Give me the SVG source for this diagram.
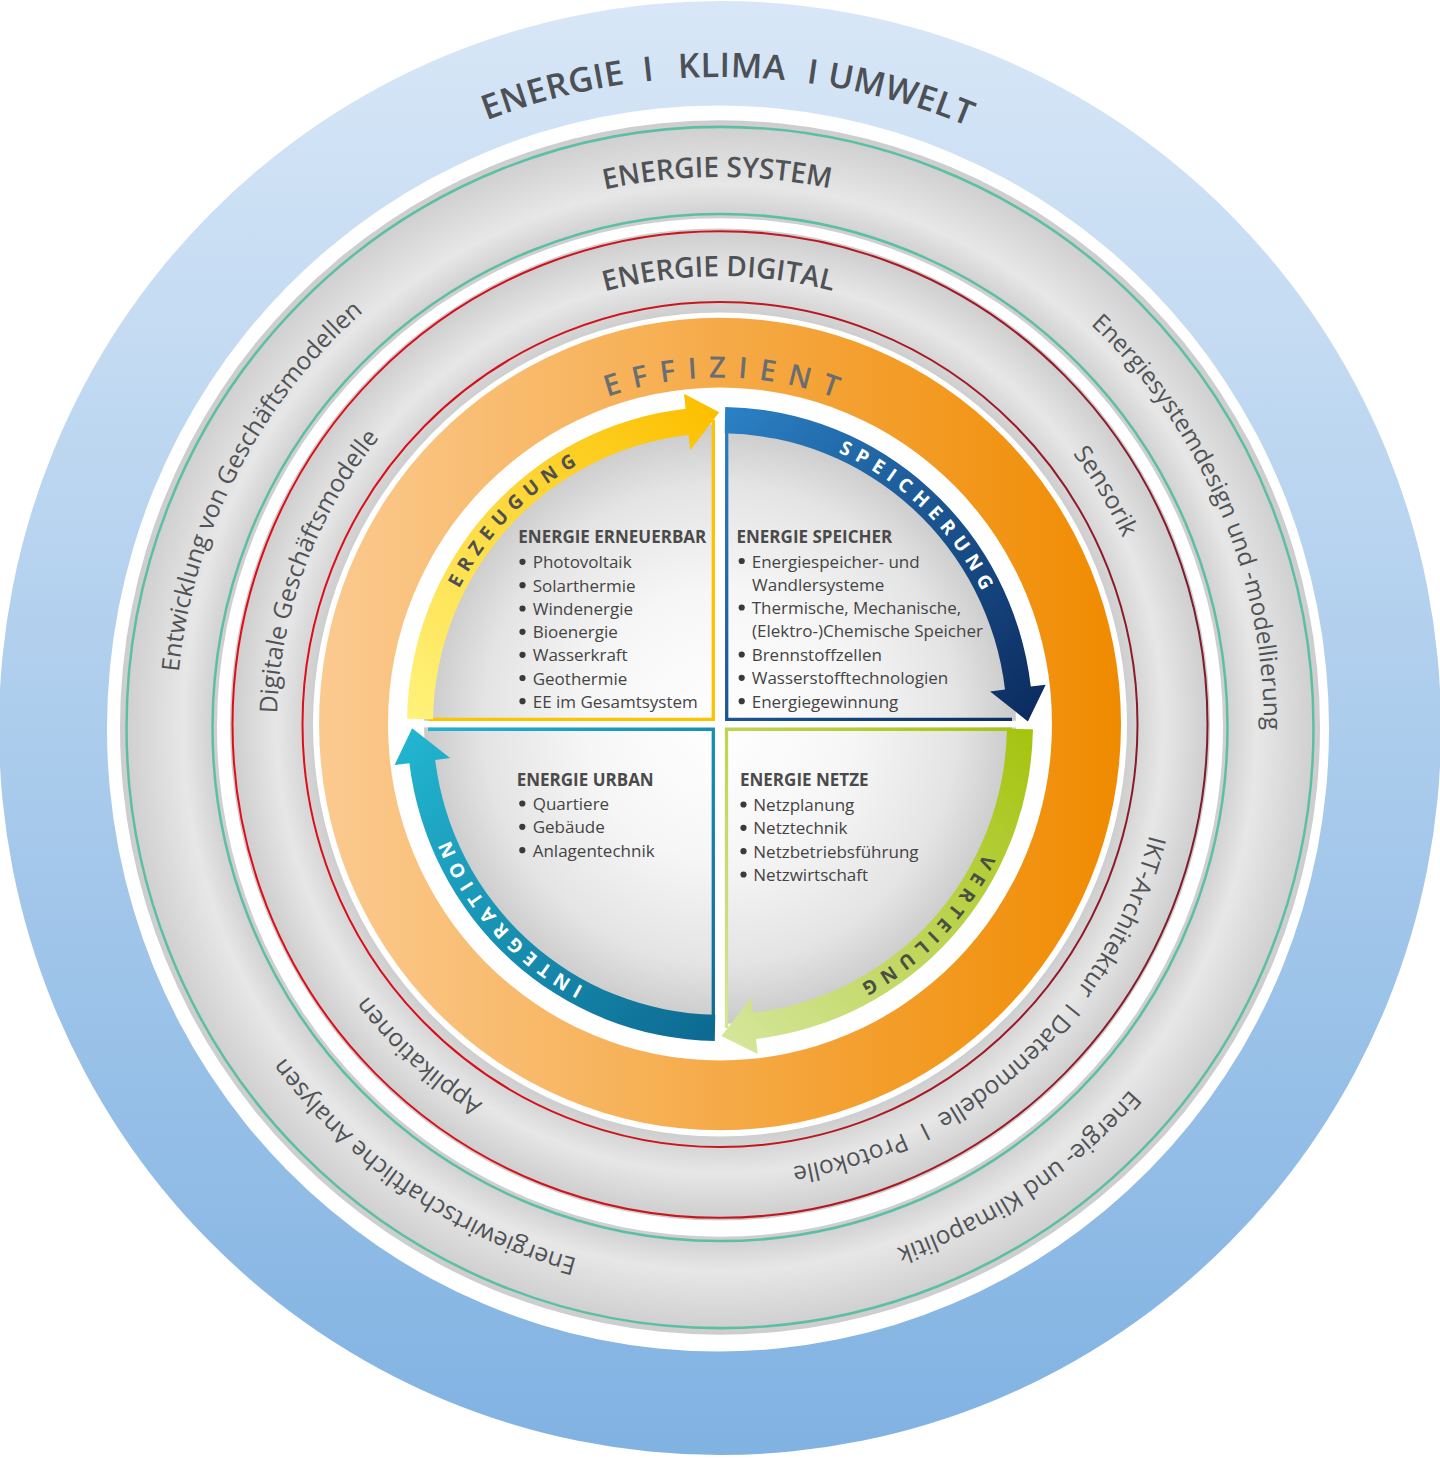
<svg xmlns="http://www.w3.org/2000/svg" width="1440" height="1458" viewBox="0 0 1440 1458">
<style>
text{font-family:"Open Sans","Noto Sans","Liberation Sans",sans-serif}
.bt{font-size:34px;font-weight:600;fill:#4d5054;letter-spacing:0.5px}
.hd{font-size:28px;font-weight:600;fill:#4f5256}
.rt{font-size:24.5px;font-weight:400;fill:#505356}
.ef{font-size:29px;font-weight:600;fill:#6a6d71;letter-spacing:12px}
.ar{font-size:19px;font-weight:700;letter-spacing:7px}
.qh{font-size:17px;font-weight:700;fill:#4a4a4a}
.qi{font-size:17px;font-weight:400;fill:#444444}
.dot{fill:#3a3a3a}
.teal{fill:none;stroke:#5cbfa4;stroke-width:2.5}
.red{fill:none;stroke:url(#gRed);stroke-width:2}
.bd{fill:none;stroke-width:3.3}
</style>
<defs>
<linearGradient id="gBlue" x1="0" y1="0" x2="0" y2="1458" gradientUnits="userSpaceOnUse">
<stop offset="0" stop-color="#d8e7f7"/><stop offset="1" stop-color="#80b2e2"/>
</linearGradient>
<radialGradient id="gGray1" cx="0" cy="0" r="600" gradientUnits="userSpaceOnUse">
<stop offset="0.838" stop-color="#cecece"/><stop offset="0.895" stop-color="#e7e7e7"/><stop offset="1" stop-color="#cdcdcd"/>
</radialGradient>
<radialGradient id="gGray2" cx="0" cy="0" r="490" gradientUnits="userSpaceOnUse">
<stop offset="0.83" stop-color="#cecece"/><stop offset="0.905" stop-color="#e7e7e7"/><stop offset="1" stop-color="#cdcdcd"/>
</radialGradient>
<linearGradient id="gRed" x1="-490" y1="0" x2="490" y2="0" gradientUnits="userSpaceOnUse">
<stop offset="0" stop-color="#e30b18"/><stop offset="0.5" stop-color="#c8161f"/><stop offset="1" stop-color="#7d1c2c"/>
</linearGradient>
<linearGradient id="gOrange" x1="-401" y1="0" x2="401" y2="0" gradientUnits="userSpaceOnUse">
<stop offset="0" stop-color="#fbca90"/><stop offset="1" stop-color="#f08b00"/>
</linearGradient>
<radialGradient id="gCore" cx="0" cy="0" r="296" gradientUnits="userSpaceOnUse">
<stop offset="0" stop-color="#ffffff"/><stop offset="0.45" stop-color="#f6f6f6"/><stop offset="0.8" stop-color="#e4e4e4"/><stop offset="1" stop-color="#cacaca"/>
</radialGradient>
<linearGradient id="gYel" x1="-300" y1="0" x2="0" y2="-300" gradientUnits="userSpaceOnUse">
<stop offset="0" stop-color="#fff27a"/><stop offset="1" stop-color="#fcc000"/>
</linearGradient>
<linearGradient id="gBlu" x1="0" y1="-300" x2="300" y2="0" gradientUnits="userSpaceOnUse">
<stop offset="0" stop-color="#2a80c4"/><stop offset="1" stop-color="#0c2c60"/>
</linearGradient>
<linearGradient id="gGrn" x1="300" y1="0" x2="0" y2="300" gradientUnits="userSpaceOnUse">
<stop offset="0" stop-color="#a5c40f"/><stop offset="1" stop-color="#d5e59a"/>
</linearGradient>
<linearGradient id="gTea" x1="0" y1="300" x2="-300" y2="0" gradientUnits="userSpaceOnUse">
<stop offset="0" stop-color="#0d6a92"/><stop offset="1" stop-color="#22b5d0"/>
</linearGradient>
<path id="pB" d="M0,651A651,651 0 1 1 0,-651A651,651 0 1 1 0,651"/>
<path id="p1t" d="M0,544A544,544 0 1 1 0,-544A544,544 0 1 1 0,544"/>
<path id="p1b" d="M0,-544A544,544 0 1 1 0,544A544,544 0 1 1 0,-544"/>
<path id="p2t" d="M0,443A443,443 0 1 1 0,-443A443,443 0 1 1 0,443"/>
<path id="p2b" d="M0,-443A443,443 0 1 1 0,443A443,443 0 1 1 0,-443"/>
<path id="pO" d="M0,342A342,342 0 1 1 0,-342A342,342 0 1 1 0,342"/>
<path id="pA" d="M0,293A293,293 0 1 1 0,-293A293,293 0 1 1 0,293"/>
</defs>

<rect width="1440" height="1458" fill="#ffffff"/>

<g id="ring-umwelt">
<path fill="url(#gBlue)" fill-rule="evenodd" d="M-1,728A721,727 0 1 0 1441,728A721,727 0 1 0 -1,728Z M107,728.5A611,623 0 1 0 1329,728.5A611,623 0 1 0 107,728.5Z"/>
<g transform="translate(720,728)">
<text class="bt"><textPath href="#pB" startOffset="45.92%" text-anchor="middle">ENERGIE</textPath></text>
<text class="bt"><textPath href="#pB" startOffset="48.27%" text-anchor="middle">I</textPath></text>
<text class="bt"><textPath href="#pB" startOffset="50.29%" text-anchor="middle">KLIMA</textPath></text>
<text class="bt"><textPath href="#pB" startOffset="52.24%" text-anchor="middle">I</textPath></text>
<text class="bt"><textPath href="#pB" startOffset="54.43%" text-anchor="middle">UMWELT</textPath></text>
</g>
</g>

<g id="ring-system" transform="translate(720,727.5) scale(1,1.012)">
<path fill="url(#gGray1)" fill-rule="evenodd" d="M-600,0A600,600 0 1 0 600,0A600,600 0 1 0 -600,0Z M-503,0A503,503 0 1 0 503,0A503,503 0 1 0 -503,0Z"/>
<circle class="teal" r="593.5"/>
<circle class="teal" r="507.5"/>
<text class="hd"><textPath href="#p1t" startOffset="49.92%" text-anchor="middle">ENERGIE SYSTEM</textPath></text>
<text class="rt"><textPath href="#p1t" startOffset="32.61%" text-anchor="middle">Entwicklung von Geschäftsmodellen</textPath></text>
<text class="rt" style="font-size:24px"><textPath href="#p1t" startOffset="68.5%" text-anchor="middle">Energiesystemdesign und -modellierung</textPath></text>
<text class="rt"><textPath href="#p1b" startOffset="40.58%" text-anchor="middle">Energie- und Klimapolitik</textPath></text>
<text class="rt"><textPath href="#p1b" startOffset="59.5%" text-anchor="middle">Energiewirtschaftliche Analysen</textPath></text>
</g>

<g id="ring-digital" transform="translate(720,724.5) scale(1,1.012)">
<path fill="url(#gGray2)" fill-rule="evenodd" d="M-490,0A490,490 0 1 0 490,0A490,490 0 1 0 -490,0Z M-407,0A407,407 0 1 0 407,0A407,407 0 1 0 -407,0Z"/>
<circle class="red" r="487.5"/>
<circle class="red" r="417.5"/>
<text class="hd"><textPath href="#p2t" startOffset="49.95%" text-anchor="middle">ENERGIE DIGITAL</textPath></text>
<text class="rt"><textPath href="#p2t" startOffset="30.72%" text-anchor="middle">Digitale Geschäftsmodelle</textPath></text>
<text class="rt"><textPath href="#p2t" startOffset="66.42%" text-anchor="middle">Sensorik</textPath></text>
<text class="rt"><textPath href="#p2b" startOffset="32.03%" text-anchor="middle">IKT-Architektur</textPath></text>
<text class="rt"><textPath href="#p2b" startOffset="35.75%" text-anchor="middle">I</textPath></text>
<text class="rt"><textPath href="#p2b" startOffset="39.0%" text-anchor="middle">Datenmodelle</textPath></text>
<text class="rt"><textPath href="#p2b" startOffset="42.5%" text-anchor="middle">I</textPath></text>
<text class="rt"><textPath href="#p2b" startOffset="45.3%" text-anchor="middle">Protokolle</textPath></text>
<text class="rt"><textPath href="#p2b" startOffset="61.83%" text-anchor="middle">Applikationen</textPath></text>
</g>

<g id="ring-effizient" transform="translate(720,724) scale(1,1.013)">
<path fill="url(#gOrange)" fill-rule="evenodd" d="M-401,0A401,401 0 1 0 401,0A401,401 0 1 0 -401,0Z M-332,0A332,332 0 1 0 332,0A332,332 0 1 0 -332,0Z"/>
<text class="ef"><textPath href="#pO" startOffset="50.35%" text-anchor="middle">EFFIZIENT</textPath></text>
</g>

<g id="core" transform="translate(720,724) scale(1,1.013)">
<circle r="296" fill="url(#gCore)"/>
<rect x="-5" y="-300" width="10" height="600" fill="#ffffff"/>
<rect x="-300" y="-3.2" width="600" height="6.6" fill="#ffffff"/>
<path class="bd" stroke="#fcc300" d="M-6.7,-300V-4.6H-292"/>
<path class="bd" stroke="url(#gBlu)" d="M6.7,-300V-4.6H292"/>
<path class="bd" stroke="url(#gTea)" d="M-292,5.2H-6.7V300"/>
<path class="bd" stroke="url(#gGrn)" d="M292,5.2H6.5V300"/>
</g>

<g id="q-erneuerbar">
<text class="qh" x="518.3" y="543.3">ENERGIE ERNEUERBAR</text>
<g class="dot"><circle cx="522.5" cy="561.8" r="3.1"/><circle cx="522.5" cy="585.2" r="3.1"/><circle cx="522.5" cy="608.5" r="3.1"/><circle cx="522.5" cy="631.8" r="3.1"/><circle cx="522.5" cy="654.8" r="3.1"/><circle cx="522.5" cy="678" r="3.1"/><circle cx="522.5" cy="701.2" r="3.1"/></g>
<text class="qi" x="532.7" y="568.3">Photovoltaik</text>
<text class="qi" x="532.7" y="591.7">Solarthermie</text>
<text class="qi" x="532.7" y="615">Windenergie</text>
<text class="qi" x="532.7" y="638.3">Bioenergie</text>
<text class="qi" x="532.7" y="661.3">Wasserkraft</text>
<text class="qi" x="532.7" y="684.5">Geothermie</text>
<text class="qi" x="532.7" y="707.7">EE im Gesamtsystem</text>
</g>

<g id="q-speicher">
<text class="qh" x="736.5" y="543">ENERGIE SPEICHER</text>
<g class="dot"><circle cx="741.7" cy="561" r="3.1"/><circle cx="741.7" cy="607.5" r="3.1"/><circle cx="741.7" cy="654.5" r="3.1"/><circle cx="741.7" cy="677.8" r="3.1"/><circle cx="741.7" cy="701.2" r="3.1"/></g>
<text class="qi" x="751.7" y="567.5">Energiespeicher- und</text>
<text class="qi" x="752" y="590.8">Wandlersysteme</text>
<text class="qi" x="751.7" y="614">Thermische, Mechanische,</text>
<text class="qi" x="752" y="637.3">(Elektro-)Chemische Speicher</text>
<text class="qi" x="751.7" y="661">Brennstoffzellen</text>
<text class="qi" x="751.7" y="684.3">Wasserstofftechnologien</text>
<text class="qi" x="751.7" y="707.7">Energiegewinnung</text>
</g>

<g id="q-urban">
<text class="qh" x="516.7" y="786">ENERGIE URBAN</text>
<g class="dot"><circle cx="522.3" cy="803.5" r="3.1"/><circle cx="522.3" cy="826.8" r="3.1"/><circle cx="522.3" cy="850.2" r="3.1"/></g>
<text class="qi" x="532.7" y="810">Quartiere</text>
<text class="qi" x="532.7" y="833.3">Gebäude</text>
<text class="qi" x="532.7" y="856.7">Anlagentechnik</text>
</g>

<g id="q-netze">
<text class="qh" x="740" y="786">ENERGIE NETZE</text>
<g class="dot"><circle cx="743.5" cy="804.5" r="3.1"/><circle cx="743.5" cy="827.8" r="3.1"/><circle cx="743.5" cy="851.2" r="3.1"/><circle cx="743.5" cy="874.5" r="3.1"/></g>
<text class="qi" x="753.3" y="811">Netzplanung</text>
<text class="qi" x="753.3" y="834.3">Netztechnik</text>
<text class="qi" x="753.3" y="857.7">Netzbetriebsführung</text>
<text class="qi" x="753.3" y="881">Netzwirtschaft</text>
</g>

<g id="connectors" transform="translate(720,724) scale(1,1.013)">
<path id="arrow-erzeugung" fill="url(#gYel)" d="M-312.96,-5.19A313,313 0 0 1 -34.35,-311.11L-35.99,-326.02L-0.78,-307.77L-29.85,-270.36L-31.49,-285.27A287,287 0 0 0 -286.96,-4.76Z"/>
<path id="arrow-speicherung" fill="url(#gBlu)" d="M5.19,-312.96A313,313 0 0 1 310.80,-37.06L325.69,-38.84L307.88,-2.47L270.09,-32.20L284.98,-33.98A287,287 0 0 0 4.76,-286.96Z"/>
<path id="arrow-verteilung" fill="url(#gGrn)" d="M312.96,5.19A313,313 0 0 1 35.98,310.92L37.70,325.83L1.40,307.88L31.26,270.20L32.99,285.10A287,287 0 0 0 286.96,4.76Z"/>
<path id="arrow-integration" fill="url(#gTea)" d="M-5.19,312.96A313,313 0 0 1 -310.60,38.69L-325.48,40.54L-307.85,4.08L-269.91,33.62L-284.80,35.47A287,287 0 0 0 -4.76,286.96Z"/>
<text class="ar" fill="#4f4f4f"><textPath href="#pA" startOffset="37.4%" text-anchor="middle">ERZEUGUNG</textPath></text>
<text class="ar" fill="#ffffff"><textPath href="#pA" startOffset="62.3%" text-anchor="middle">SPEICHERUNG</textPath></text>
<text class="ar" fill="#4a4f45"><textPath href="#pA" startOffset="87.3%" text-anchor="middle">VERTEILUNG</textPath></text>
<text class="ar" fill="#ffffff"><textPath href="#pA" startOffset="13.35%" text-anchor="middle">INTEGRATION</textPath></text>
</g>
</svg>
